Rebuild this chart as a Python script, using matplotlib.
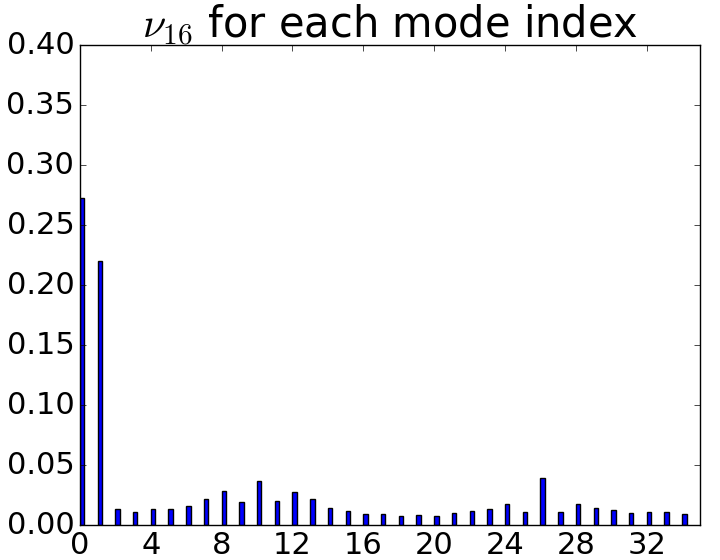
import numpy as np
import matplotlib
matplotlib.use('Agg')
import matplotlib.pyplot as plt

plt.style.use('classic')

modes = np.arange(35)
nu16 = [0.2725, 0.220, 0.0133, 0.0108, 0.0133, 0.0133, 0.0158, 0.0217, 0.0283,
        0.0192, 0.0367, 0.0200, 0.0275, 0.0217, 0.0142, 0.0117, 0.0092, 0.0092,
        0.0075, 0.0083, 0.0075, 0.0100, 0.0117, 0.0133, 0.0175, 0.0108, 0.0390,
        0.0108, 0.0175, 0.0142, 0.0125, 0.0100, 0.0108, 0.0108, 0.0092]

fig = plt.figure(figsize=(7.2, 5.6), dpi=100)
ax = fig.add_axes([0.111, 0.0625, 0.861, 0.857])
ax.bar(modes, nu16, width=0.25, align='edge', color='b', edgecolor='k')
ax.set_xlim(0, 35)
ax.set_ylim(0, 0.40)
ax.set_xticks(np.arange(0, 35, 4))
ax.set_yticks(np.arange(0, 0.401, 0.05))
ax.tick_params(labelsize=22)
ax.set_title(r'$\nu_{16}$ for each mode index', fontsize=30)

fig.savefig('out.png', dpi=100)
